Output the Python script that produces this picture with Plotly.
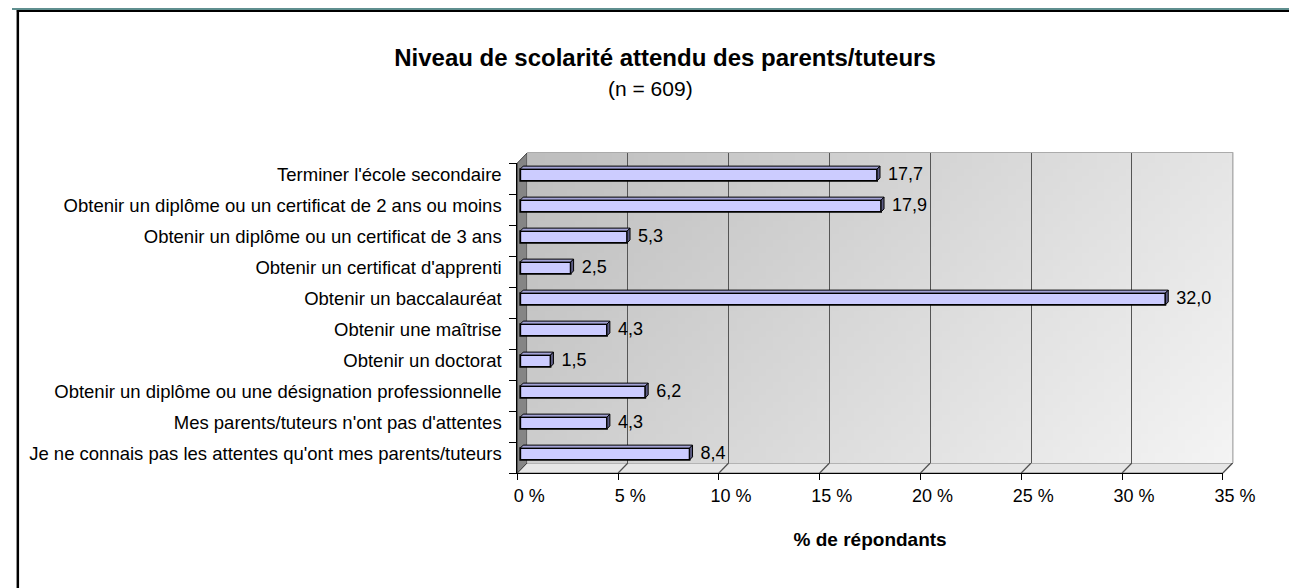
import base64
import struct
import zlib

import plotly.graph_objects as go

# ---------------- data ----------------
categories = [
    "Terminer l'école secondaire",
    "Obtenir un diplôme ou un certificat de 2 ans ou moins",
    "Obtenir un diplôme ou un certificat de 3 ans",
    "Obtenir un certificat d'apprenti",
    "Obtenir un baccalauréat",
    "Obtenir une maîtrise",
    "Obtenir un doctorat",
    "Obtenir un diplôme ou une désignation professionnelle",
    "Mes parents/tuteurs n'ont pas d'attentes",
    "Je ne connais pas les attentes qu'ont mes parents/tuteurs",
]
values = [17.7, 17.9, 5.3, 2.5, 32.0, 4.3, 1.5, 6.2, 4.3, 8.4]
tick_values = [0, 5, 10, 15, 20, 25, 30, 35]
tick_labels = ["0 %", "5 %", "10 %", "15 %", "20 %", "25 %", "30 %", "35 %"]
title_text = "Niveau de scolarité attendu des parents/tuteurs"
subtitle_text = "(n = 609)"
x_title = "% de répondants"

# ---------------- geometry (pixels) ----------------
W, H = 1314, 588
FX0, FX1 = 520, 1246      # front plane, x
FY0, FY1 = 155, 465       # front plane, y (top, bottom)
DEPTH = 10                # 3D depth offset of the back wall
XMAX = tick_values[-1]
N = len(categories)
X_UNIT = (FX1 - FX0) / XMAX          # px per percent
Y_UNIT = (FY1 - FY0) / N             # px per category
CAT_TOP = 12 / Y_UNIT                # first bar centre sits 12 px below top
yr = [N - CAT_TOP, -CAT_TOP]         # reversed range
BAR_SHIFT = 3                        # bars sit mid depth
BASE = BAR_SHIFT / X_UNIT
DX = BAR_SHIFT / X_UNIT
DY = BAR_SHIFT / Y_UNIT
BW = 0.38
FONT = "Liberation Sans, Arial, sans-serif"


def px(p):
    return p / W


def py(p):
    return 1 - p / H


def gradient_png(w=96, h=48):
    rows = []
    for j in range(h):
        v = j / (h - 1)
        row = bytearray([0])
        for i in range(w):
            u = i / (w - 1)
            row.append(int(round(190 + 54 * (0.72 * u + 0.28 * v))))
        rows.append(bytes(row))
    raw = b"".join(rows)

    def chunk(t, d):
        return struct.pack(">I", len(d)) + t + d + struct.pack(">I", zlib.crc32(t + d) & 0xFFFFFFFF)

    png = (b"\x89PNG\r\n\x1a\n"
           + chunk(b"IHDR", struct.pack(">IIBBBBB", w, h, 8, 0, 0, 0, 0))
           + chunk(b"IDAT", zlib.compress(raw))
           + chunk(b"IEND", b""))
    return "data:image/png;base64," + base64.b64encode(png).decode()


idx = list(range(N))
value_text = [f"{v:.1f}".replace(".", ",") for v in values]

fig = go.Figure()

fig.add_trace(go.Bar(
    x=values, y=idx, base=BASE, orientation="h", width=BW,
    marker=dict(color="#ccccff", line=dict(color="black", width=1.8)),
    xaxis="x2", yaxis="y2", hoverinfo="skip", showlegend=False,
))

fig.add_trace(go.Scatter(
    x=[BASE + v + DX + 0.4 for v in values], y=idx, mode="text",
    text=value_text, textposition="middle right",
    textfont=dict(family=FONT, size=18, color="black"),
    xaxis="x2", yaxis="y3", hoverinfo="skip", showlegend=False, cliponaxis=False,
))

shapes = []
# floor and left wall (front-axis domain units)
ddx = DEPTH / (FX1 - FX0)
ddy = DEPTH / (FY1 - FY0)
shapes.append(dict(type="path", xref="x2 domain", yref="y2 domain", layer="below",
                   path=f"M 0,0 L 1,0 L {1 + ddx},{ddy} L {ddx},{ddy} Z",
                   fillcolor="#e6e6e6", line=dict(color="#808080", width=1)))
shapes.append(dict(type="path", xref="x2 domain", yref="y2 domain", layer="below",
                   path=f"M 0,0 L 0,1 L {ddx},{1 + ddy} L {ddx},{ddy} Z",
                   fillcolor="#858585", line=dict(color="#404040", width=1)))
for t in tick_values[1:]:
    f = t / XMAX
    shapes.append(dict(type="line", xref="x2 domain", yref="y2 domain", layer="below",
                       x0=f, y0=0, x1=f + ddx, y1=ddy,
                       line=dict(color="#505050", width=1.2)))
# back wall outline
shapes.append(dict(type="path", xref="x domain", yref="y domain", layer="below",
                   path="M 0,1 L 1,1 L 1,0",
                   line=dict(color="#909090", width=1.5)))
# 3D faces of bars
for i, v in enumerate(values):
    x0, x1 = BASE, BASE + v
    yt, yb = i - BW / 2, i + BW / 2
    shapes.append(dict(type="path", xref="x2", yref="y2", layer="above",
                       path=f"M {x0},{yt} L {x1},{yt} L {x1 + DX},{yt - DY} L {x0 + DX},{yt - DY} Z",
                       fillcolor="#a3a3d6", line=dict(color="black", width=1)))
    shapes.append(dict(type="path", xref="x2", yref="y2", layer="above",
                       path=f"M {x1},{yt} L {x1 + DX},{yt - DY} L {x1 + DX},{yb - DY} L {x1},{yb} Z",
                       fillcolor="#5c5c84", line=dict(color="black", width=1)))
# chart frame
shapes.append(dict(type="rect", xref="paper", yref="paper", layer="above",
                   x0=0, x1=1, y0=py(2), y1=1, fillcolor="#5f8f8f", line=dict(width=0)))
shapes.append(dict(type="line", xref="paper", yref="paper", layer="above",
                   x0=px(5), x1=1, y0=py(3), y1=py(3), line=dict(color="black", width=2)))
shapes.append(dict(type="line", xref="paper", yref="paper", layer="above",
                   x0=px(6), x1=px(6), y0=0, y1=py(2), line=dict(color="black", width=2.5)))

fig.update_layout(
    width=W, height=H, autosize=False,
    margin=dict(l=0, r=0, t=0, b=0, pad=0),
    paper_bgcolor="white", plot_bgcolor="rgba(0,0,0,0)",
    font=dict(family=FONT, size=18, color="black"),
    showlegend=False,
    title=dict(text=f"<b>{title_text}</b>", x=0.5, xanchor="center",
               y=py(50), yanchor="middle", yref="paper",
               font=dict(family=FONT, size=24, color="black")),
    annotations=[dict(text=subtitle_text, x=0.5, y=py(80), xref="paper", yref="paper",
                      xanchor="center", yanchor="middle", showarrow=False,
                      font=dict(family=FONT, size=21, color="black"))],
    # back wall subplot
    xaxis=dict(domain=[px(FX0 + DEPTH), px(FX1 + DEPTH)], range=[0, XMAX], anchor="y",
               tickvals=tick_values[1:-1], showticklabels=False, ticks="",
               showgrid=True, gridcolor="#555555", gridwidth=1.3,
               showline=False, zeroline=False, fixedrange=True),
    yaxis=dict(domain=[py(FY1 - DEPTH), py(FY0 - DEPTH)], range=[0, 1], anchor="x",
               showticklabels=False, ticks="", showgrid=False, showline=False,
               zeroline=False, fixedrange=True),
    # front subplot
    xaxis2=dict(domain=[px(FX0), px(FX1)], range=[0, XMAX], anchor="y2",
                tickvals=tick_values, ticktext=tick_labels, ticks="outside",
                ticklen=6, tickcolor="black", tickwidth=1, ticklabelshift=12,
                showline=True, linecolor="black", linewidth=1.2,
                showgrid=False, zeroline=False, fixedrange=True,
                tickfont=dict(family=FONT, size=18, color="black"),
                title=dict(text=f"<b>{x_title}</b>", standoff=27,
                           font=dict(family=FONT, size=19, color="black"))),
    yaxis2=dict(domain=[py(FY1), py(FY0)], range=yr, anchor="x2",
                tickvals=[k - CAT_TOP for k in range(N + 1)], showticklabels=False,
                ticks="outside", ticklen=7, tickcolor="black", tickwidth=1,
                showline=True, linecolor="black", linewidth=1.2,
                showgrid=False, zeroline=False, fixedrange=True),
    yaxis3=dict(overlaying="y2", anchor="x2", side="left", range=yr,
                tickvals=idx, ticktext=categories, ticks="outside", ticklen=11,
                tickcolor="rgba(0,0,0,0)", showline=False, showgrid=False,
                zeroline=False, fixedrange=True,
                tickfont=dict(family=FONT, size=18.5, color="black")),
    images=[dict(source=gradient_png(), xref="x", yref="y", x=0, y=1,
                 sizex=XMAX, sizey=1, xanchor="left", yanchor="top",
                 sizing="stretch", layer="below")],
    shapes=shapes,
)

fig.write_html("out.html")
